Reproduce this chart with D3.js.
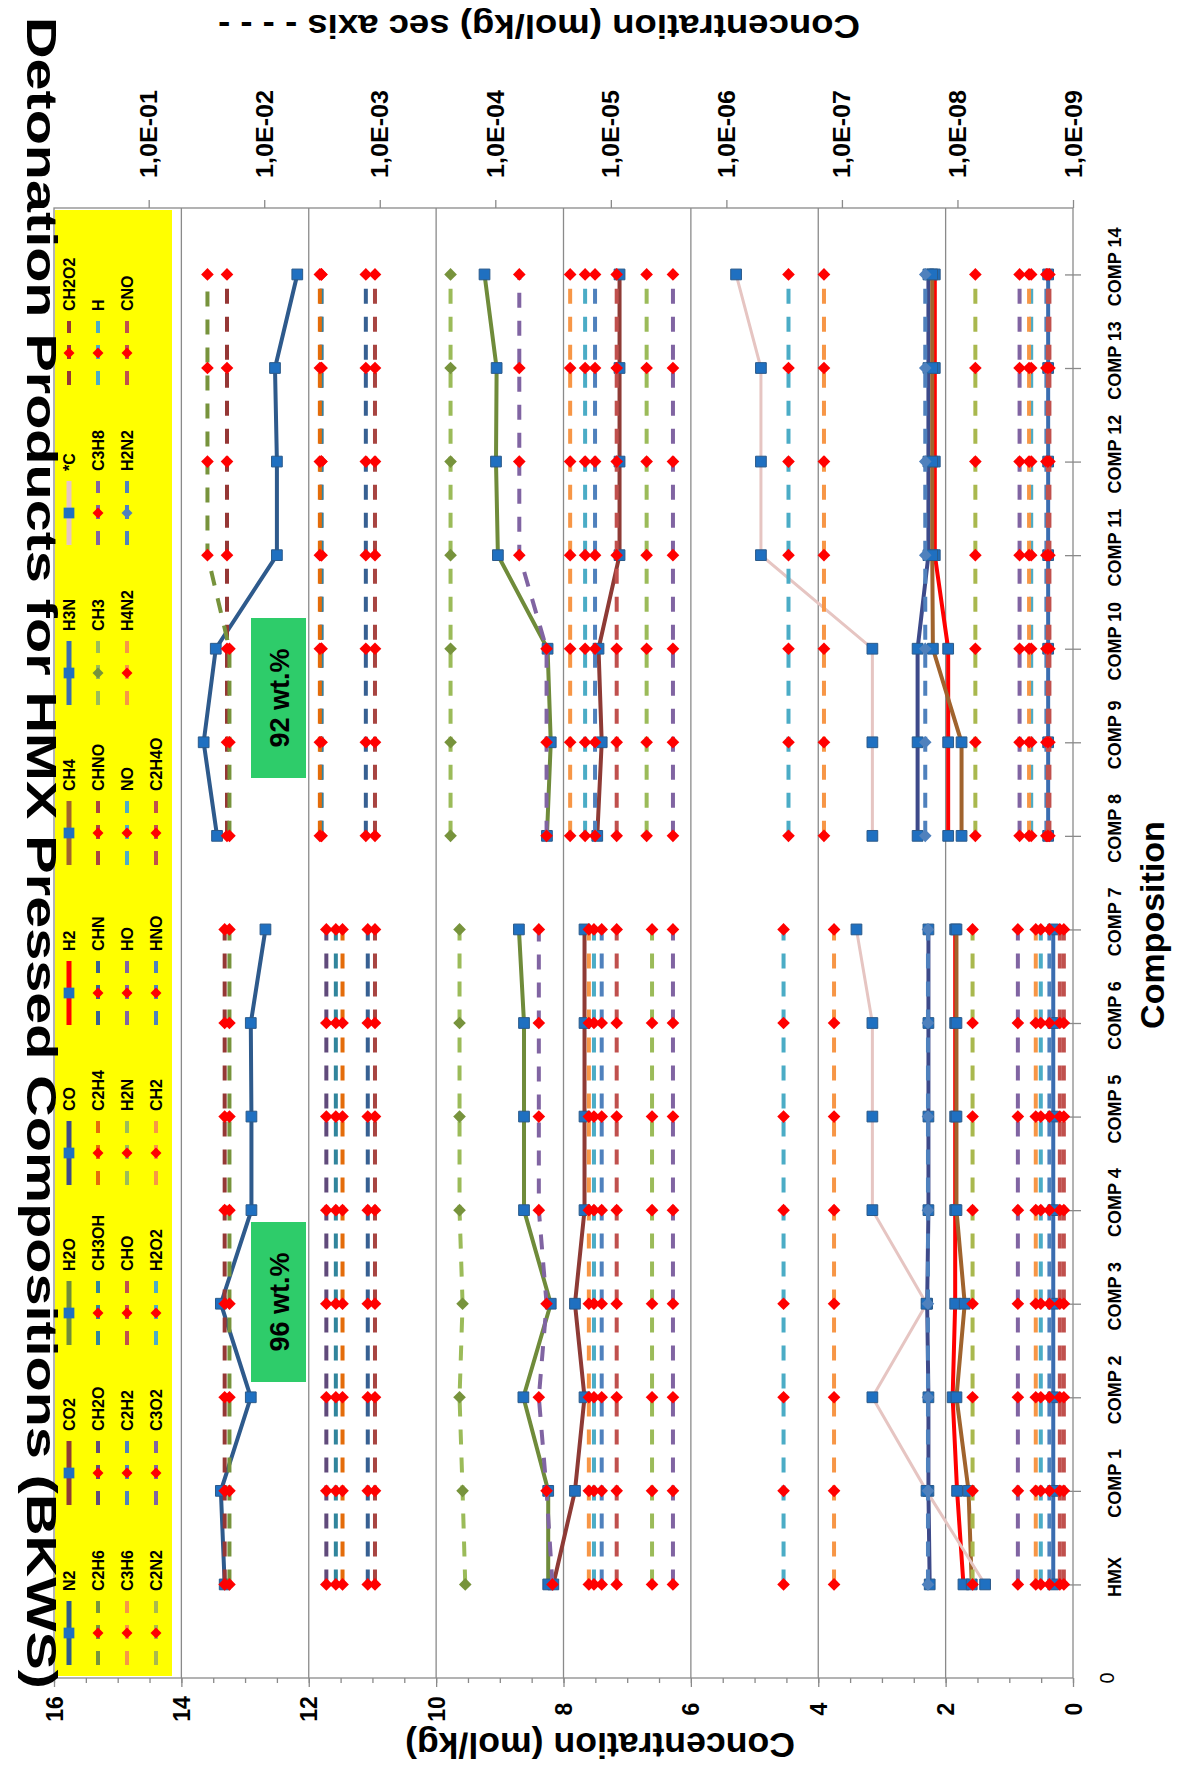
<!DOCTYPE html>
<html>
<head>
<meta charset="utf-8">
<script src="https://cdn.jsdelivr.net/npm/d3@7"></script>
<style>
  body { margin: 0; background: #fff; }
  text { font-family: "Liberation Sans", Arial, sans-serif; font-weight: bold; fill: #000; }
</style>
</head>
<body>
<svg id="chart" width="1190" height="1769"></svg>
<script>
// categories (bottom to top in the picture)
var categories = ["HMX", "COMP 1", "COMP 2", "COMP 3", "COMP 4", "COMP 5", "COMP 6", "COMP 7",
                  "COMP 8", "COMP 9", "COMP 10", "COMP 11", "COMP 12", "COMP 13", "COMP 14"];
// the lines are broken between COMP 7 and COMP 8 (96 wt.% / 92 wt.% groups)
var segments = [[0, 7], [8, 14]];

// primary axis, mol/kg
var N2  = [13.32, 13.38, 12.91, 13.38, 12.90, 12.90, 12.91, 12.68, 13.44, 13.65, 13.46, 12.50, 12.50, 12.53, 12.18];
var CO2 = [8.16, 7.82, 7.67, 7.82, 7.67, 7.67, 7.67, 7.67, 7.47, 7.40, 7.45, 7.12, 7.12, 7.12, 7.12];
var H2O = [8.24, 8.24, 8.63, 8.20, 8.62, 8.62, 8.62, 8.70, 8.26, 8.20, 8.25, 9.03, 9.06, 9.05, 9.24];
var CO  = [2.25, 2.27, 2.27, 2.29, 2.27, 2.27, 2.27, 2.27, 2.44, 2.44, 2.44, 2.27, 2.27, 2.27, 2.27];
var H2  = [1.72, 1.82, 1.89, 1.85, 1.85, 1.85, 1.85, 1.85, 1.96, 1.96, 1.96, 2.17, 2.17, 2.17, 2.17];
var CH4 = [1.59, 1.64, 1.83, 1.70, 1.83, 1.83, 1.83, 1.83, 1.75, 1.75, 2.20, 2.21, 2.21, 2.21, 2.21];
var H3N = [0.31, 0.31, 0.31, 0.31, 0.31, 0.31, 0.31, 0.31, 0.39, 0.39, 0.39, 0.39, 0.39, 0.39, 0.39];
var Cs  = [1.38, 2.30, 3.15, 2.30, 3.15, 3.15, 3.15, 3.40, 3.15, 3.15, 3.15, 4.90, 4.90, 4.90, 5.29];

// secondary axis, mol/kg (log)
var CH2O2 = [2.2e-2, 2.2e-2, 2.2e-2, 2.2e-2, 2.2e-2, 2.2e-2, 2.2e-2, 2.2e-2, 2.1e-2, 2.1e-2, 2.1e-2, 2.1e-2, 2.1e-2, 2.1e-2, 2.1e-2];
var C2H6  = [2.0e-2, 2.0e-2, 2.0e-2, 2.0e-2, 2.0e-2, 2.0e-2, 2.0e-2, 2.0e-2, 2.0e-2, 2.0e-2, 2.0e-2, 3.1e-2, 3.1e-2, 3.1e-2, 3.1e-2];
var CH2O  = [2.9e-3, 2.9e-3, 2.9e-3, 2.9e-3, 2.9e-3, 2.9e-3, 2.9e-3, 2.9e-3, 3.2e-3, 3.2e-3, 3.2e-3, 3.2e-3, 3.2e-3, 3.2e-3, 3.2e-3];
var CH3OH = [2.4e-3, 2.4e-3, 2.4e-3, 2.4e-3, 2.4e-3, 2.4e-3, 2.4e-3, 2.4e-3, 3.2e-3, 3.2e-3, 3.2e-3, 3.2e-3, 3.2e-3, 3.2e-3, 3.2e-3];
var C2H4  = [2.1e-3, 2.1e-3, 2.1e-3, 2.1e-3, 2.1e-3, 2.1e-3, 2.1e-3, 2.1e-3, 3.3e-3, 3.3e-3, 3.3e-3, 3.3e-3, 3.3e-3, 3.3e-3, 3.3e-3];
var CHN   = [1.27e-3, 1.27e-3, 1.27e-3, 1.27e-3, 1.27e-3, 1.27e-3, 1.27e-3, 1.27e-3, 1.32e-3, 1.32e-3, 1.32e-3, 1.32e-3, 1.32e-3, 1.32e-3, 1.32e-3];
var CHNO  = [1.1e-3, 1.1e-3, 1.1e-3, 1.1e-3, 1.1e-3, 1.1e-3, 1.1e-3, 1.1e-3, 1.1e-3, 1.1e-3, 1.1e-3, 1.1e-3, 1.1e-3, 1.1e-3, 1.1e-3];
var CH3   = [1.82e-4, 1.92e-4, 2.04e-4, 1.92e-4, 2.04e-4, 2.04e-4, 2.04e-4, 2.04e-4, 2.44e-4, 2.44e-4, 2.44e-4, 2.44e-4, 2.44e-4, 2.44e-4, 2.44e-4];
var C3H8  = [3.2e-5, 3.6e-5, 4.2e-5, 3.6e-5, 4.2e-5, 4.2e-5, 4.2e-5, 4.2e-5, 3.6e-5, 3.6e-5, 3.6e-5, 6.2e-5, 6.2e-5, 6.2e-5, 6.2e-5];
var H     = [1.4e-5, 1.4e-5, 1.4e-5, 1.4e-5, 1.4e-5, 1.4e-5, 1.4e-5, 1.4e-5, 1.67e-5, 1.67e-5, 1.67e-5, 1.67e-5, 1.67e-5, 1.67e-5, 1.67e-5];
var C3H6  = [1.55e-5, 1.55e-5, 1.55e-5, 1.55e-5, 1.55e-5, 1.55e-5, 1.55e-5, 1.55e-5, 2.25e-5, 2.25e-5, 2.25e-5, 2.25e-5, 2.25e-5, 2.25e-5, 2.25e-5];
var C2H2  = [1.2e-5, 1.2e-5, 1.2e-5, 1.2e-5, 1.2e-5, 1.2e-5, 1.2e-5, 1.2e-5, 1.37e-5, 1.37e-5, 1.37e-5, 1.37e-5, 1.37e-5, 1.37e-5, 1.37e-5];
var CHO   = [8.9e-6, 8.9e-6, 8.9e-6, 8.9e-6, 8.9e-6, 8.9e-6, 8.9e-6, 8.9e-6, 8.9e-6, 8.9e-6, 8.9e-6, 8.9e-6, 8.9e-6, 8.9e-6, 8.9e-6];
var H2N   = [4.4e-6, 4.4e-6, 4.4e-6, 4.4e-6, 4.4e-6, 4.4e-6, 4.4e-6, 4.4e-6, 4.9e-6, 4.9e-6, 4.9e-6, 4.9e-6, 4.9e-6, 4.9e-6, 4.9e-6];
var HO    = [2.9e-6, 2.9e-6, 2.9e-6, 2.9e-6, 2.9e-6, 2.9e-6, 2.9e-6, 2.9e-6, 2.9e-6, 2.9e-6, 2.9e-6, 2.9e-6, 2.9e-6, 2.9e-6, 2.9e-6];
var NO    = [3.2e-7, 3.2e-7, 3.2e-7, 3.2e-7, 3.2e-7, 3.2e-7, 3.2e-7, 3.2e-7, 2.9e-7, 2.9e-7, 2.9e-7, 2.9e-7, 2.9e-7, 2.9e-7, 2.9e-7];
var H4N2  = [1.17e-7, 1.17e-7, 1.17e-7, 1.17e-7, 1.17e-7, 1.17e-7, 1.17e-7, 1.17e-7, 1.43e-7, 1.43e-7, 1.43e-7, 1.43e-7, 1.43e-7, 1.43e-7, 1.43e-7];
var H2N2  = [1.8e-8, 1.8e-8, 1.8e-8, 1.8e-8, 1.8e-8, 1.8e-8, 1.8e-8, 1.8e-8, 1.9e-8, 1.9e-8, 1.9e-8, 1.9e-8, 1.9e-8, 1.9e-8, 1.9e-8];
var CNO   = [1.3e-9, 1.3e-9, 1.3e-9, 1.3e-9, 1.3e-9, 1.3e-9, 1.3e-9, 1.3e-9, 1.6e-9, 1.6e-9, 1.6e-9, 1.6e-9, 1.6e-9, 1.6e-9, 1.6e-9];
var C2N2  = [7.4e-9, 7.4e-9, 7.4e-9, 7.4e-9, 7.4e-9, 7.4e-9, 7.4e-9, 7.4e-9, 7.0e-9, 7.0e-9, 7.0e-9, 7.0e-9, 7.0e-9, 7.0e-9, 7.0e-9];
var C3O2  = [3.0e-9, 3.0e-9, 3.0e-9, 3.0e-9, 3.0e-9, 3.0e-9, 3.0e-9, 3.0e-9, 2.9e-9, 2.9e-9, 2.9e-9, 2.9e-9, 2.9e-9, 2.9e-9, 2.9e-9];
var H2O2  = [1.9e-9, 1.9e-9, 1.9e-9, 1.9e-9, 1.9e-9, 1.9e-9, 1.9e-9, 1.9e-9, 2.3e-9, 2.3e-9, 2.3e-9, 2.3e-9, 2.3e-9, 2.3e-9, 2.3e-9];
var CH2   = [2.1e-9, 2.1e-9, 2.1e-9, 2.1e-9, 2.1e-9, 2.1e-9, 2.1e-9, 2.1e-9, 2.4e-9, 2.4e-9, 2.4e-9, 2.4e-9, 2.4e-9, 2.4e-9, 2.4e-9];
var HNO   = [1.6e-9, 1.6e-9, 1.6e-9, 1.6e-9, 1.6e-9, 1.6e-9, 1.6e-9, 1.6e-9, 1.7e-9, 1.7e-9, 1.7e-9, 1.7e-9, 1.7e-9, 1.7e-9, 1.7e-9];
var C2H4O = [1.2e-9, 1.2e-9, 1.2e-9, 1.2e-9, 1.2e-9, 1.2e-9, 1.2e-9, 1.2e-9, 1.65e-9, 1.65e-9, 1.65e-9, 1.65e-9, 1.65e-9, 1.65e-9, 1.65e-9];

var priTicks = [0, 2, 4, 6, 8, 10, 12, 14, 16];
var secTicks = [1e-1, 1e-2, 1e-3, 1e-4, 1e-5, 1e-6, 1e-7, 1e-8, 1e-9];
var secLabels = ["1,0E-01", "1,0E-02", "1,0E-03", "1,0E-04", "1,0E-05", "1,0E-06", "1,0E-07", "1,0E-08", "1,0E-09"];

var RED = "#c0504d", OLV = "#9bbb59", PUR = "#8064a2", TEA = "#4bacc6", ORA = "#f79646", BLU = "#4f81bd";

var series = [
  {name: "N2",  v: N2,  sec: false, color: "#2e5a8c"},
  {name: "CO2", v: CO2, sec: false, color: "#8e3a35"},
  {name: "H2O", v: H2O, sec: false, color: "#6f8b3a"},
  {name: "CO",  v: CO,  sec: false, color: "#3d4a8a"},
  {name: "H2",  v: H2,  sec: false, color: "#ff0000"},
  {name: "CH4", v: CH4, sec: false, color: "#a0632d"},
  {name: "H3N", v: H3N, sec: false, color: "#3a6db0"},
  {name: "*C",  v: Cs,  sec: false, color: "#e6c5c2", thin: true},
  {name: "CH2O2", v: CH2O2, sec: true, color: "#953735"},
  {name: "C2H6",  v: C2H6,  sec: true, color: "#77933c"},
  {name: "CH2O",  v: CH2O,  sec: true, color: "#604a7b"},
  {name: "CH3OH", v: CH3OH, sec: true, color: "#31859c"},
  {name: "C2H4",  v: C2H4,  sec: true, color: "#e46c0a"},
  {name: "CHN",   v: CHN,   sec: true, color: "#376092"},
  {name: "CHNO",  v: CHNO,  sec: true, color: "#a84441"},
  {name: "CH3",   v: CH3,   sec: true, color: OLV, mark: "#77933c"},
  {name: "C3H8",  v: C3H8,  sec: true, color: PUR},
  {name: "H",     v: H,     sec: true, color: TEA},
  {name: "C3H6",  v: C3H6,  sec: true, color: ORA},
  {name: "C2H2",  v: C2H2,  sec: true, color: BLU},
  {name: "CHO",   v: CHO,   sec: true, color: RED},
  {name: "H2N",   v: H2N,   sec: true, color: OLV},
  {name: "HO",    v: HO,    sec: true, color: PUR},
  {name: "NO",    v: NO,    sec: true, color: TEA},
  {name: "H4N2",  v: H4N2,  sec: true, color: ORA},
  {name: "H2N2",  v: H2N2,  sec: true, color: BLU, mark: "#4f81bd"},
  {name: "CNO",   v: CNO,   sec: true, color: RED},
  {name: "C2N2",  v: C2N2,  sec: true, color: "#a9b84e"},
  {name: "C3O2",  v: C3O2,  sec: true, color: PUR},
  {name: "H2O2",  v: H2O2,  sec: true, color: TEA},
  {name: "CH2",   v: CH2,   sec: true, color: ORA},
  {name: "HNO",   v: HNO,   sec: true, color: BLU},
  {name: "C2H4O", v: C2H4O, sec: true, color: "#c0504d"}
];

var svg = d3.select("#chart");

// the whole chart lies on its side: values run right-to-left, categories bottom-to-top
var plot = {left: 54, right: 1073, top: 208, bottom: 1678};
var xPri = d3.scaleLinear().domain([0, 16]).range([plot.right, plot.left]);
var xSec = d3.scaleLog().domain([1e-9, 0.66]).range([plot.right, plot.left]);
var yCat = d3.scaleLinear().domain([0, 15.71]).range([plot.bottom, plot.top]);

// legend background
svg.append("rect").attr("x", 55).attr("y", 210).attr("width", 117).attr("height", 1466).attr("fill", "#ffff00");

// gridlines
svg.append("g").selectAll("line").data(priTicks.slice(1, -1)).enter().append("line")
  .attr("x1", function(d) { return xPri(d); }).attr("x2", function(d) { return xPri(d); })
  .attr("y1", plot.top).attr("y2", plot.bottom)
  .attr("stroke", "#8a8a8a").attr("stroke-width", 1.3);

svg.append("rect").attr("x", plot.left).attr("y", plot.top)
  .attr("width", plot.right - plot.left).attr("height", plot.bottom - plot.top)
  .attr("fill", "none").attr("stroke", "#8a8a8a").attr("stroke-width", 1.3);

// primary axis (bottom)
var minor = d3.range(0, 16.01, 0.5);
svg.append("g").attr("transform", "translate(0," + plot.bottom + ")")
  .call(d3.axisBottom(xPri).tickValues(minor).tickSize(5).tickFormat(""))
  .call(function(g) { g.select(".domain").remove(); g.selectAll("line").attr("stroke", "#8a8a8a").attr("stroke-width", 1.3); });
var gPri = svg.append("g").attr("transform", "translate(0," + plot.bottom + ")")
  .call(d3.axisBottom(xPri).tickValues(priTicks).tickSize(9).tickFormat(d3.format("d")));
gPri.select(".domain").remove();
gPri.selectAll("line").attr("stroke", "#8a8a8a").attr("stroke-width", 1.3);
gPri.selectAll("text").attr("y", 0).attr("dy", "0.35em").attr("text-anchor", "middle")
  .attr("transform", "translate(0,31) rotate(-90)").style("font-size", "23px");

// secondary axis (top)
var gSec = svg.append("g").attr("transform", "translate(0," + plot.top + ")")
  .call(d3.axisTop(xSec).tickValues(secTicks).tickSize(8)
    .tickFormat(function(d, i) { return secLabels[i]; }));
gSec.select(".domain").remove();
gSec.selectAll("line").attr("stroke", "#8a8a8a").attr("stroke-width", 1.3);
gSec.selectAll("text").attr("y", 0).attr("dy", "0.35em").attr("text-anchor", "start")
  .attr("transform", "translate(0,-30) rotate(-90)").style("font-size", "23px")
  .attr("textLength", 88).attr("lengthAdjust", "spacingAndGlyphs");

// category axis (right)
var gCat = svg.append("g").attr("transform", "translate(" + plot.right + ",0)")
  .call(d3.axisRight(yCat).tickValues(d3.range(1, 16)).tickSize(8)
    .tickFormat(function(d) { return categories[d - 1]; }));
gCat.select(".domain").remove();
gCat.selectAll("line").attr("x1", -8).attr("stroke", "#8a8a8a").attr("stroke-width", 1.3);
gCat.selectAll("text").attr("x", 0).attr("y", 0).attr("dy", "0.35em").attr("text-anchor", "middle")
  .attr("transform", "translate(42,-8) rotate(-90)").style("font-size", "18px");
svg.append("text").attr("transform", "translate(1107," + yCat(0) + ") rotate(-90)")
  .attr("text-anchor", "middle").attr("dy", "0.35em").style("font-size", "20px").style("font-weight", "normal")
  .text("0");

// series
function xOf(s) { return s.sec ? xSec : xPri; }
var diamond = d3.symbol().type(d3.symbolSquare).size(80);
var square = d3.symbol().type(d3.symbolSquare).size(115);

function drawSeries(s) {
  var x = xOf(s);
  var g = svg.append("g");
  segments.forEach(function(seg) {
    var pts = d3.range(seg[0], seg[1] + 1).map(function(i) { return {i: i + 1, v: s.v[i]}; });
    var line = d3.line().x(function(d) { return x(d.v); }).y(function(d) { return yCat(d.i); });
    g.append("path").attr("d", line(pts)).attr("fill", "none")
      .attr("stroke", s.color).attr("stroke-width", s.sec ? 4 : (s.thin ? 3 : 4))
      .attr("stroke-dasharray", s.sec ? "15,13" : null);
    g.selectAll(null).data(pts).enter().append("path")
      .attr("transform", function(d) {
        return "translate(" + x(d.v) + "," + yCat(d.i) + ")" + (s.sec ? " rotate(45)" : "");
      })
      .attr("d", s.sec ? diamond : square)
      .attr("fill", s.sec ? (s.mark || "#ff0000") : "#1f70c1")
      .attr("stroke", s.sec ? "none" : "#2b5a8a").attr("stroke-width", 1);
  });
}
series.filter(function(s) { return !s.sec; }).forEach(drawSeries);
series.filter(function(s) { return s.sec; }).forEach(drawSeries);

// legend entries: 9 per column, reading bottom-to-top
var leg = svg.append("g");
series.forEach(function(s, k) {
  var col = Math.floor(k / 9), row = k % 9;
  var cx = 69 + col * 29, y0 = 1665 - row * 160;
  leg.append("line").attr("x1", cx).attr("x2", cx).attr("y1", y0).attr("y2", y0 - 64)
    .attr("stroke", s.color).attr("stroke-width", s.sec ? 4 : 5)
    .attr("stroke-dasharray", s.sec ? "14,12" : null);
  leg.append("path").attr("transform", "translate(" + cx + "," + (y0 - 32) + ")" + (s.sec ? " rotate(45)" : ""))
    .attr("d", s.sec ? d3.symbol().type(d3.symbolSquare).size(60)() : square())
    .attr("fill", s.sec ? (s.mark || "#ff0000") : "#1f70c1");
  leg.append("text").attr("transform", "translate(" + cx + "," + (y0 - 74) + ") rotate(-90)")
    .attr("dy", "0.35em").style("font-size", "16px").text(s.name);
});

// wt.% boxes
[["96 wt.%", 1222], ["92 wt.%", 618]].forEach(function(b) {
  svg.append("rect").attr("x", 251).attr("y", b[1]).attr("width", 55).attr("height", 160).attr("fill", "#2ecc6a");
  svg.append("text").attr("transform", "translate(279," + (b[1] + 80) + ") rotate(-90)")
    .attr("text-anchor", "middle").attr("dy", "0.36em").style("font-size", "27px").text(b[0]);
});

// titles
svg.append("text").attr("transform", "translate(42,17) rotate(90)")
  .attr("text-anchor", "start").attr("dy", "0.36em").style("font-size", "43px")
  .attr("textLength", 1672).attr("lengthAdjust", "spacingAndGlyphs")
  .text("Detonation Products for HMX Pressed Compositions (BKWS)");
svg.append("text").attr("transform", "translate(539,27) rotate(180)")
  .attr("text-anchor", "middle").attr("dy", "0.36em").style("font-size", "34px")
  .attr("textLength", 642).attr("lengthAdjust", "spacingAndGlyphs")
  .text("Concentration (mol/kg) sec axis - - - -");
svg.append("text").attr("transform", "translate(600,1746) rotate(180)")
  .attr("text-anchor", "middle").attr("dy", "0.36em").style("font-size", "35px")
  .attr("textLength", 390).attr("lengthAdjust", "spacingAndGlyphs")
  .text("Concentration (mol/kg)");
svg.append("text").attr("transform", "translate(1152,925) rotate(-90)")
  .attr("text-anchor", "middle").attr("dy", "0.36em").style("font-size", "34px")
  .text("Composition");
</script>
</body>
</html>
